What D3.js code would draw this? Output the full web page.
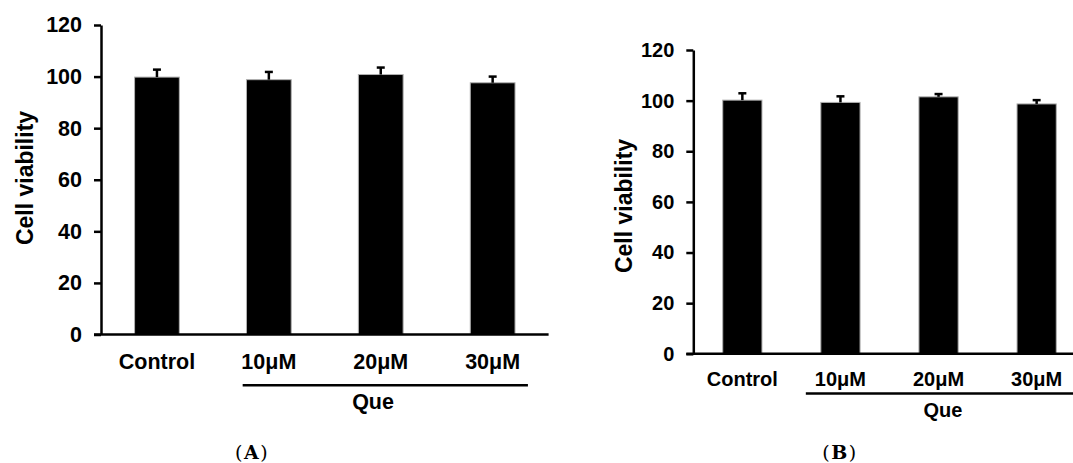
<!DOCTYPE html>
<html>
<head>
<meta charset="utf-8">
<script src="https://cdn.jsdelivr.net/npm/d3@7"></script>
<style>
  body { margin: 0; background: #fff; }
  svg { display: block; }
  text { font-family: "Liberation Sans", Arial, sans-serif; font-weight: bold; fill: #000; }
</style>
</head>
<body>
<div id="chart"></div>
<script>
// chart data
let categories = ["Control", "10\u03bcM", "20\u03bcM", "30\u03bcM"];
let valuesA = [99.8, 98.8, 100.8, 97.6];
let errorsA = [2.9, 3.0, 2.7, 2.4];
let valuesB = [100.2, 99.3, 101.5, 98.7];
let errorsB = [2.7, 2.4, 1.1, 1.5];
let yTicks = [0, 20, 40, 60, 80, 100, 120];
let yLabel = "Cell viability";
let groupLabel = "Que";
let captions = ["A", "B"];

let svg = d3.select("#chart").append("svg")
    .attr("width", 1073)
    .attr("height", 463);

function drawPanel(values, errors, caption, cfg) {
    let x = d3.scaleBand()
        .domain(categories)
        .range([cfg.left, cfg.left + cfg.step * categories.length])
        .paddingInner(0.6)
        .paddingOuter(0.3);

    let y = d3.scaleLinear()
        .domain([0, 120])
        .range([cfg.bottom, cfg.top]);

    let g = svg.append("g");

    // bars
    g.selectAll("rect.bar")
        .data(values)
        .enter()
        .append("rect")
        .attr("class", "bar")
        .attr("x", (d, i) => x(categories[i]))
        .attr("y", d => y(d))
        .attr("width", x.bandwidth())
        .attr("height", d => y(0) - y(d))
        .style("fill", "#000")
        .style("stroke", "#b0b0b0")
        .style("stroke-width", 1);

    // error bars (upper half only)
    let cap = 4;
    values.forEach((v, i) => {
        let cx = x(categories[i]) + x.bandwidth() / 2;
        g.append("line")
            .attr("x1", cx).attr("x2", cx)
            .attr("y1", y(v)).attr("y2", y(v + errors[i]))
            .style("stroke", "#000").style("stroke-width", 2.5);
        g.append("line")
            .attr("x1", cx - cap).attr("x2", cx + cap)
            .attr("y1", y(v + errors[i])).attr("y2", y(v + errors[i]))
            .style("stroke", "#000").style("stroke-width", 2.5);
    });

    // y axis
    let yAxis = g.append("g")
        .attr("transform", `translate(${cfg.left},0)`)
        .call(d3.axisLeft(y).tickValues(yTicks).tickSize(7).tickSizeOuter(0).tickPadding(12));
    yAxis.select(".domain").style("stroke-width", 2.5);
    yAxis.selectAll(".tick line").style("stroke-width", 2.5);
    yAxis.selectAll(".tick text")
        .style("font-family", "'Liberation Sans', Arial, sans-serif")
        .style("font-weight", "bold")
        .style("font-size", cfg.fontSize + "px");

    // x axis line
    g.append("line")
        .attr("x1", cfg.left - 7)
        .attr("x2", x.range()[1])
        .attr("y1", y(0)).attr("y2", y(0))
        .style("stroke", "#000").style("stroke-width", 2.5);

    // category labels
    g.selectAll("text.cat")
        .data(categories)
        .enter()
        .append("text")
        .attr("class", "cat")
        .attr("x", d => x(d) + x.bandwidth() / 2)
        .attr("y", cfg.labelY)
        .attr("text-anchor", "middle")
        .style("font-size", cfg.fontSize + "px")
        .text(d => d);

    // group bracket
    g.append("line")
        .attr("x1", x(categories[1]) - cfg.lineL)
        .attr("x2", x(categories[3]) + x.bandwidth() + cfg.lineR)
        .attr("y1", cfg.lineY).attr("y2", cfg.lineY)
        .style("stroke", "#000").style("stroke-width", 2.5);
    g.append("text")
        .attr("x", x(categories[2]) + x.bandwidth() / 2 + cfg.queDx)
        .attr("y", cfg.queY)
        .attr("text-anchor", "middle")
        .style("font-size", cfg.fontSize + "px")
        .text(groupLabel);

    // y label
    g.append("text")
        .attr("transform", `translate(${cfg.yLabelX},${cfg.yLabelY}) rotate(-90)`)
        .attr("text-anchor", "middle")
        .style("font-size", cfg.yLabelSize + "px")
        .text(yLabel);

    // caption
    let cap1 = g.append("text")
        .attr("x", cfg.captionX)
        .attr("y", 459)
        .attr("text-anchor", "middle")
        .style("font-family", "'DejaVu Serif', 'Liberation Serif', serif")
        .style("font-weight", "normal")
        .style("font-size", "19px")
        .style("letter-spacing", "1.5px");
    cap1.append("tspan").text("(");
    cap1.append("tspan").style("font-weight", "bold").text(caption);
    cap1.append("tspan").text(")");
}

drawPanel(valuesA, errorsA, captions[0], {
    left: 101, step: 111.9, top: 25, bottom: 334.5,
    fontSize: 21.5, labelY: 369, lineY: 385.3, lineL: 3.8, lineR: 12.9,
    queDx: -7.7, queY: 409, yLabelX: 33, yLabelY: 178, yLabelSize: 23,
    captionX: 252
});

drawPanel(valuesB, errorsB, captions[1], {
    left: 693.3, step: 98.1, top: 50, bottom: 353.8,
    fontSize: 20, labelY: 385.5, lineY: 393.5, lineL: 15, lineR: 40,
    queDx: 4.3, queY: 417, yLabelX: 631.5, yLabelY: 206, yLabelSize: 23,
    captionX: 840
});
</script>
</body>
</html>
